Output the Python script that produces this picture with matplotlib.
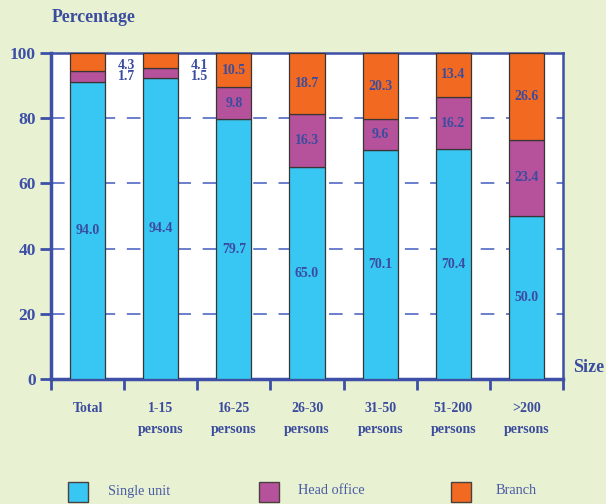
import matplotlib
matplotlib.use("Agg")
import matplotlib.pyplot as plt
from matplotlib.patches import Rectangle
import matplotlib.transforms as mtransforms

# ---- data ----
categories_line1 = ["Total", "1-15", "16-25", "26-30", "31-50", "51-200", ">200"]
categories_line2 = ["", "persons", "persons", "persons", "persons", "persons", "persons"]
# segment heights as drawn in the picture
single_unit = [91.0, 92.2, 79.7, 65.0, 70.1, 70.4, 50.0]
head_office = [3.6, 3.1, 9.8, 16.3, 9.6, 16.2, 23.4]
branch = [5.4, 4.7, 10.5, 18.7, 20.3, 13.4, 26.6]
# printed labels
single_labels = ["94.0", "94.4", "79.7", "65.0", "70.1", "70.4", "50.0"]
head_labels = ["1.7", "1.5", "9.8", "16.3", "9.6", "16.2", "23.4"]
branch_labels = ["4.3", "4.1", "10.5", "18.7", "20.3", "13.4", "26.6"]
outside = [True, True, False, False, False, False, False]
yticks = [0, 20, 40, 60, 80, 100]
series_names = ["Single unit", "Head office", "Branch"]

# ---- style ----
BG = "#E8F1D1"
BLUE = "#3D4FA6"
TXT = "#3B4C9E"
C_SINGLE = "#38C6F2"
C_HEAD = "#B6529C"
C_BRANCH = "#F26A22"
EDGE = "#3A3535"
FONT = "Liberation Serif"

fig = plt.figure(figsize=(6.06, 5.04), dpi=100, facecolor=BG)
ax = fig.add_axes([51 / 606, 1 - 379 / 504, 512 / 606, 326 / 504])
ax.set_facecolor("white")

x = list(range(len(single_unit)))
w = 0.48
bottom2 = [s for s in single_unit]
bottom3 = [s + h for s, h in zip(single_unit, head_office)]
ax.bar(x, single_unit, w, color=C_SINGLE, edgecolor=EDGE, linewidth=0.9, zorder=3)
ax.bar(x, head_office, w, bottom=bottom2, color=C_HEAD, edgecolor=EDGE, linewidth=0.9, zorder=3)
ax.bar(x, branch, w, bottom=bottom3, color=C_BRANCH, edgecolor=EDGE, linewidth=0.9, zorder=3)

lab_kw = dict(ha="center", va="center", fontsize=10, fontweight="bold", color=TXT, family=FONT, zorder=5)
for i in x:
    ax.text(i, single_unit[i] / 2, single_labels[i], **lab_kw)
    if outside[i]:
        ax.text(i + 0.53, 96.3, branch_labels[i], **lab_kw)
        ax.text(i + 0.53, 92.7, head_labels[i], **lab_kw)
    else:
        ax.text(i, bottom2[i] + head_office[i] / 2, head_labels[i], **lab_kw)
        ax.text(i, bottom3[i] + branch[i] / 2, branch_labels[i], **lab_kw)

ax.set_xlim(-0.5, len(x) - 0.5)
ax.set_ylim(0, 100)
ax.set_yticks(yticks)
ax.set_yticklabels([str(v) for v in yticks], fontsize=12.5, fontweight="bold", color=TXT, family=FONT)
ax.set_xticks([i - 0.5 for i in range(len(x) + 1)])
ax.set_xticklabels([])
ax.tick_params(axis="both", colors=BLUE, width=2, length=8, direction="out")
ax.tick_params(axis="y", pad=3)
for v in yticks[1:-1]:
    ax.axhline(v, color="#6A7ECB", linestyle=(0, (7, 6)), linewidth=1.4, zorder=1)
for s in ax.spines.values():
    s.set_color(BLUE)
    s.set_linewidth(1.8)
ax.spines["left"].set_linewidth(2.5)
ax.spines["bottom"].set_linewidth(2.5)

trans = mtransforms.blended_transform_factory(ax.transData, ax.transAxes)
for i in x:
    ax.text(i, -29 / 326, categories_line1[i], transform=trans, ha="center", va="center",
            fontsize=10, fontweight="bold", color=TXT, family=FONT)
    if categories_line2[i]:
        ax.text(i, -51 / 326, categories_line2[i], transform=trans, ha="center", va="center",
                fontsize=10, fontweight="bold", color=TXT, family=FONT)

fig.text(52 / 606, 1 - 18 / 504, "Percentage", ha="left", va="center", fontsize=12.8,
         fontweight="bold", color=TXT, family=FONT)
fig.text(589 / 606, 1 - 368 / 504, "Size", ha="center", va="center", fontsize=13,
         fontweight="bold", color=TXT, family=FONT)

# legend
leg_colors = [C_SINGLE, C_HEAD, C_BRANCH]
patch_x = [68, 259, 451]
text_x = [108, 298, 496]
for px, tx, c, name in zip(patch_x, text_x, leg_colors, series_names):
    fig.patches.append(Rectangle((px / 606, 1 - 502 / 504), 20 / 606, 20 / 504,
                                 transform=fig.transFigure, facecolor=c, edgecolor="#4A4040",
                                 linewidth=1.0))
    fig.text(tx / 606, 1 - 491 / 504, name, ha="left", va="center", fontsize=10.3,
             color="#4A5BA6", family=FONT)

fig.savefig("out.png", dpi=100, facecolor=BG)
